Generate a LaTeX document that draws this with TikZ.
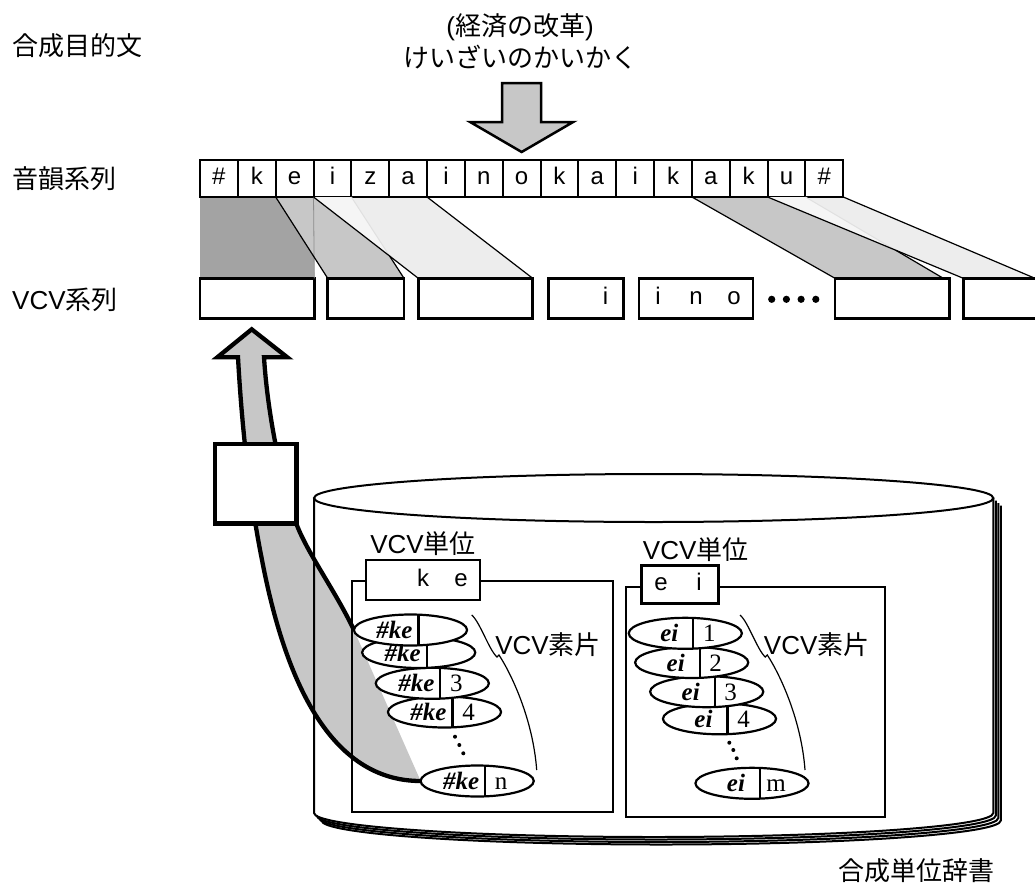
\documentclass[tikz,border=0pt]{standalone}
\usepackage{fontspec}
\setmainfont{Liberation Sans}
\newfontfamily\cjk{Noto Sans CJK JP}
\newfontfamily\tms{Liberation Serif}
\usetikzlibrary{shapes.geometric,positioning}
\pgfdeclarelayer{bg}
\pgfdeclarelayer{fg}
\pgfsetlayers{bg,main,fg}
\newcommand\lat[1]{{\normalfont #1}}
\tikzset{
  phon/.style={draw, line width=2pt, minimum width=37.84pt, minimum height=37pt,
    inner sep=0pt, outer sep=0pt, text height=17pt, text depth=5pt}
  }

\begin{document}
\begin{tikzpicture}[x=1pt, y=-1pt,
    font=\fontsize{24}{28}\selectfont,
    jlabel/.style={font=\cjk\fontsize{26}{32}\selectfont, inner sep=0pt},
    vcvbox/.style={draw, line width=2.5pt, minimum height=40pt,
        inner sep=0pt, outer sep=0pt, text height=17pt, text depth=5pt},
    unitbox/.style={draw, line width=2pt, inner sep=0pt, outer sep=0pt},
    tagbox/.style={draw, fill=white, line width=2.5pt, inner sep=0pt,
        outer sep=0pt, text height=17pt, text depth=5pt},
    piece/.style={ellipse, draw, fill=white, line width=2.2pt, minimum width=89pt,
        minimum height=31pt, inner sep=0pt, outer sep=0pt,
        font=\tms\fontsize{25}{27}\selectfont},
    regline/.style={line width=1.2pt},
    faint/.style={line width=1pt, black!12},
]
    \useasboundingbox (0,0) rectangle (1035,886);
    % Row labels
    \node[jlabel, anchor=west] (goal) at (12,46) {合成目的文};
    \node[jlabel, anchor=west] (phonlab) at (12,179) {音韻系列};
    \node[jlabel, anchor=west] (vcvlab) at (12,300) {\lat{VCV}系列};
    \node[jlabel, align=center] (target) at (520,41) {\lat{(}経済の改革\lat{)}\\けいざいのかいかく};
    % Phoneme sequence
    \foreach \ph [count=\i from 0] in {\#,k,e,i,z,a,i,n,o,k,a,i,k,a,k,u,\#}
        \node[phon] (p\i) at ({218.92+37.84*\i},178.5) {\ph};
    \coordinate (dtip) at ([yshift=8pt]p8.north);
    \draw[fill=black!22, line width=2.5pt] (dtip) -- ++(51.5,-30) -- ++(-32,0) -- ++(0,-39)
        -- ++(-39,0) -- ++(0,39) -- ++(-32,0) -- cycle;
    % VCV sequence
    \foreach \n/\cx/\w in {1/257.15/114.3, 2/365.85/76.3, 3/475.5/114.4, 6/892.15/114.3, 7/1020.3/114}
        \node[vcvbox, minimum width=\w pt] (v\n) at (\cx,298.3) {};
    \node[vcvbox, minimum width=75pt, text width=45pt, inner xsep=15pt, align=right] (v4) at (585.8,298.3) {i};
    \node[vcvbox, minimum width=113.4pt] (v5) at (696,298.3) {\makebox[38pt]{i}\makebox[38pt]{n}\makebox[38pt]{o}};
    \foreach \d in {0,...,3}
        \fill ({771.7+14.7*\d},299.3) circle (3.6);
    % Mapping bands
    \coordinate (r4) at ([xshift=-6pt]v6.north east);
    \coordinate (r5) at ([xshift=71.7pt]v7.north west);
    \begin{pgfonlayer}{bg}
        \fill[black!36] (p0.south west) -- (p2.south east) -- (v1.north east) -- (v1.north west) -- cycle;
        \fill[black!22] (p2.south west) -- (p3.south east) -- (v2.north east) -- (v2.north west) -- cycle;
        \fill[black!7] (p3.south west) -- (p5.south east) -- (v3.north east) -- (v3.north west) -- cycle;
        \fill[black!22] (p13.south west) -- (p15.south east) -- (r4) -- (v6.north west) -- cycle;
        \fill[black!7] (p15.south west) -- (p16.south east) -- (r5) -- (v7.north west) -- cycle;
    \end{pgfonlayer}
    \coordinate (x23) at (intersection of p3.south east--v2.north east and p3.south west--v3.north west);
    \coordinate (x45) at (intersection of p15.south east--r4 and p15.south west--v7.north west);
    \fill[black!4] (p3.south west) -- (p3.south east) -- (x23) -- cycle;
    \fill[black!4] (p15.south west) -- (p15.south east) -- (x45) -- cycle;
    \draw[black!45, line width=0.8pt] (p2.south east) -- (v1.north east);
    \draw[regline] (p2.south west) -- (v2.north west);
    \draw[faint] (p3.south east) -- (x23);
    \draw[regline] (x23) -- (v2.north east);
    \draw[regline] (p3.south west) -- (v3.north west);
    \draw[regline] (p5.south east) -- (v3.north east);
    \draw[regline] (p13.south west) -- (v6.north west);
    \draw[faint] (p15.south east) -- (x45);
    \draw[regline] (x45) -- (r4);
    \draw[regline] (p15.south west) -- (v7.north west);
    \draw[regline] (p16.south east) -- (r5);
    % VCV pieces
    \begin{pgfonlayer}{fg}
        \foreach \nm/\cx/\cy/\num in {kn/477.2/781/n, k4/444.5/712/4, k3/432.3/683.3/3, k2/418.7/652.5/{}, k1/410.5/630/{}} {
            \node[piece] (\nm) at (\cx,\cy) {\makebox[48pt]{\bfseries\itshape\#ke}\makebox[32pt]{\num}};
            \draw[line width=2.2pt] ([xshift=8pt]\nm.north) -- ([xshift=8pt]\nm.south);
        }
        \foreach \nm/\cx/\cy/\num in {em/752/783.3/m, e4/719.5/718.8/4, e3/706.7/691.7/3, e2/691.7/662.5/2, e1/685.3/633.3/1} {
            \node[piece] (\nm) at (\cx,\cy) {\makebox[48pt]{\bfseries\itshape ei}\makebox[32pt]{\num}};
            \draw[line width=2.2pt] ([xshift=8pt]\nm.north) -- ([xshift=8pt]\nm.south);
        }
    \end{pgfonlayer}
    \foreach \dx/\dy in {455/736.7, 459.3/745, 463.3/753.3, 729.3/742.7, 733.3/750, 736.7/758.3}
        \fill (\dx,\dy) circle (2);
    % Fetch arrow
    \coordinate (uptip) at (251.7,329.3);
    \draw[line width=4.3pt, fill=black!22, line join=miter] (k1.west)
        .. controls (335,590) and (305,550) .. (295,520)
        .. controls (283,485) and (268,420) .. (264,357.3)
        -- ([shift={(35.6,28)}]uptip) -- (uptip) -- ([shift={(-34.4,28)}]uptip) -- (238,357.3)
        .. controls (242,430) and (250,500) .. (262,560)
        .. controls (285,680) and (330,781) .. (kn.west);
    \node[draw, fill=white, line width=4.5pt, minimum width=81.7pt, minimum height=79.3pt,
        inner sep=0pt] (selbox) at (255.85,483.65) {};
    % Dictionary
    \foreach \s in {2.5,5,7.5}
        \draw[line width=2pt, shift={(\s,\s)}] (314,813)
            arc[start angle=180, end angle=0, x radius=339.65, y radius=24] -- (993.3,498);
    \draw[line width=2pt] (314,498) -- (314,813)
        arc[start angle=180, end angle=0, x radius=339.65, y radius=24] -- (993.3,498);
    \draw[line width=2pt, fill=white] (653.65,498) ellipse [x radius=339.65, y radius=24];
    \node[jlabel] (dictlab) at (916.7,871) {合成単位辞書};
    % VCV units
    \node[unitbox, minimum width=261.6pt, minimum height=230.7pt] (kunit) at (482.5,696.35) {};
    \node[tagbox, minimum width=114pt, minimum height=40pt] (ktag) at (423,580)
        {\makebox[38pt]{}\makebox[38pt]{k}\makebox[38pt]{e}};
    \node[jlabel, above=4pt of ktag] (kname) {\lat{VCV}単位};
    \node[unitbox, minimum width=259pt, minimum height=230pt] (eunit) at (755.5,701.7) {};
    \node[tagbox, minimum width=76.6pt, minimum height=37.6pt] (etag) at (680,584.5)
        {\makebox[38pt]{e}\makebox[38pt]{i}};
    \node[jlabel, above right=4pt and 1pt of etag.north west] (ename) {\lat{VCV}単位};
    \foreach \bx in {0,268.3}
        \draw[line width=1.2pt, shift={(\bx,0)}] (471.7,615) .. controls (480,622) and (489,650) .. (497,657)
            -- (499,655) .. controls (512,675) and (533,720) .. (536.7,770);
    \node[jlabel] (kpieces) at (548,645) {\lat{VCV}素片};
    \node[jlabel] (epieces) at (816.7,645) {\lat{VCV}素片};
\end{tikzpicture}
\end{document}
